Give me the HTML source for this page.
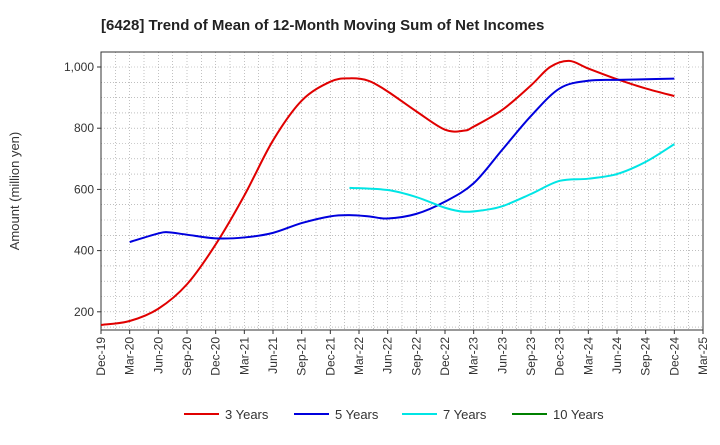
<!DOCTYPE html>
<html><head><meta charset="utf-8"><style>
body{margin:0;background:#fff;font-family:"Liberation Sans",sans-serif}
</style></head><body>
<svg id="c" width="720" height="440" xmlns="http://www.w3.org/2000/svg"></svg>
<script>
const xTickLabels=["Dec-19","Mar-20","Jun-20","Sep-20","Dec-20","Mar-21","Jun-21","Sep-21","Dec-21","Mar-22","Jun-22","Sep-22","Dec-22","Mar-23","Jun-23","Sep-23","Dec-23","Mar-24","Jun-24","Sep-24","Dec-24","Mar-25"];
const yTicks=[200,400,600,800,1000];
// months since Dec-19
const m3=[0,3,6,9,12,15,18,21,24,26,28,30,33,36,38,39,42,45,47,49,51,54,57,60];
const v3=[157,170,210,290,420,580,760,890,952,963,955,920,855,795,792,805,860,940,1000,1020,995,960,930,905];
const m5=[3,6,7,9,12,15,18,21,24,26,28,30,33,36,39,42,45,48,51,54,57,60];
const v5=[428,456,460,452,440,443,458,490,512,516,512,505,520,560,620,730,840,930,955,958,960,962];
const m7=[26,30,33,36,38,40,42,45,48,51,54,57,60];
const v7=[605,598,575,540,527,532,545,585,628,635,650,690,748];
const series=[{name:"3 Years",color:"#e00000",m:m3,v:v3},{name:"5 Years",color:"#0000dd",m:m5,v:v5},{name:"7 Years",color:"#00e5e5",m:m7,v:v7},{name:"10 Years",color:"#008000",m:[],v:[]}];
const L=101,R=703,T=52,B=330;
const X=m=>L+m*(R-L)/63;
const Y=v=>373-v*(373-67)/1000;
const svg=document.getElementById('c');
const NS="http://www.w3.org/2000/svg";
function el(t,a,p){const e=document.createElementNS(NS,t);for(const k in a)e.setAttribute(k,a[k]);(p||svg).appendChild(e);return e;}
for(let i=0;i<=42;i++){const x=X(i*1.5);const g=el('line',{x1:x,x2:x,y1:T,y2:B,stroke:'#999','stroke-width':0.6,'stroke-dasharray':'1,2'});}
for(let v=150;v<=1050;v+=50){if(Y(v)<T||Y(v)>B)continue;const g=el('line',{x1:L,x2:R,y1:Y(v),y2:Y(v),stroke:'#999','stroke-width':0.6,'stroke-dasharray':'1,2'});}
const fr=el('rect',{x:L,y:T,width:R-L,height:B-T,fill:'none',stroke:'#333','stroke-width':1});

yTicks.forEach(v=>{el('line',{x1:L-4,x2:L,y1:Y(v),y2:Y(v),stroke:'#333'});const t=el('text',{x:L-7,y:Y(v)+4,'text-anchor':'end','font-size':12,fill:'#333'});t.textContent=v.toLocaleString('en-US');});
xTickLabels.forEach((s,i)=>{const x=X(i*3);el('line',{x1:x,x2:x,y1:B,y2:B+4,stroke:'#333'});const t=el('text',{transform:`translate(${x+4},${B+7}) rotate(-90)`,'text-anchor':'end','font-size':12,fill:'#333'});t.textContent=s;});
const yt=el('text',{transform:'translate(19,191) rotate(-90)','text-anchor':'middle','font-size':13,fill:'#333'});yt.textContent='Amount (million yen)';
const ti=el('text',{x:101,y:30,'font-size':15,'font-weight':'bold',fill:'#222'});ti.textContent='[6428]  Trend of Mean of 12-Month Moving Sum of Net Incomes';
function path(pts){if(!pts.length)return'';let d=`M${pts[0][0]},${pts[0][1]}`;for(let i=0;i<pts.length-1;i++){const p0=pts[i-1]||pts[i],p1=pts[i],p2=pts[i+1],p3=pts[i+2]||p2;d+=` C${p1[0]+(p2[0]-p0[0])/6},${p1[1]+(p2[1]-p0[1])/6} ${p2[0]-(p3[0]-p1[0])/6},${p2[1]-(p3[1]-p1[1])/6} ${p2[0]},${p2[1]}`;}return d;}
series.forEach((s,i)=>{const p=el('path',{d:path(s.m.map((m,j)=>[X(m),Y(s.v[j])])),fill:'none',stroke:s.color,'stroke-width':2});
const lx=[184,294,402,512][i];const g=el('g',{});
el('line',{x1:lx,x2:lx+35,y1:414,y2:414,stroke:s.color,'stroke-width':2},g);const t=el('text',{x:lx+41,y:419,'font-size':13,fill:'#333'},g);t.textContent=s.name;});
</script>
</body></html>
